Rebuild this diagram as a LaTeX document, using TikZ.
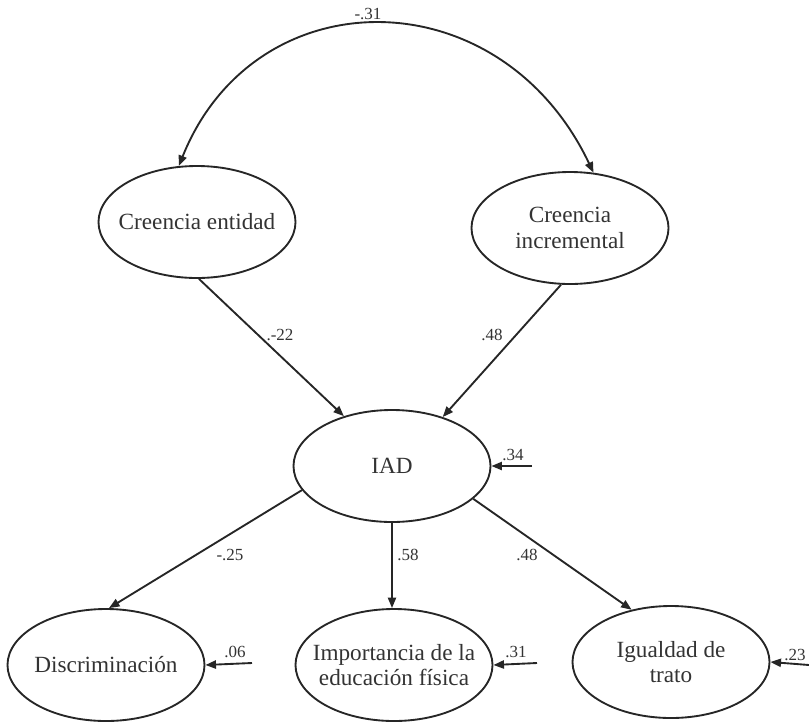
\documentclass[tikz,border=0pt]{standalone}
\usepackage{fontspec}
\setmainfont{Liberation Serif}
\usetikzlibrary{arrows.meta, shapes.geometric}

\begin{document}
\begin{tikzpicture}[x=0.03cm, y=-0.03cm,
    latent/.style={ellipse, draw=black!85, line width=1.6pt, minimum width=5.91cm, minimum height=3.36cm,
        inner xsep=-12pt, inner ysep=0pt, align=center, text=black!80, font=\fontsize{19.8}{21.5}\selectfont},
    path/.style={-{Triangle[length=9pt,width=7pt]}, draw=black!85, line width=1.6pt},
    coef/.style={text=black!80, font=\fontsize{14.5}{16}\selectfont}]
    \useasboundingbox (0,0) rectangle (809,721);

    % Beliefs
    \node[latent] (entidad) at (197,222) {Creencia entidad};
    \node[latent] (incremental) at (570,228) {Creencia\\incremental};

    % Central variable
    \node[latent] (iad) at (392,466) {IAD};

    % Outcomes
    \node[latent] (discrim) at (106,665) {Discriminaci\'on};
    \node[latent] (importancia) at (394,665) {Importancia de la\\educaci\'on f\'isica};
    \node[latent] (igualdad) at (671,662) {Igualdad de\\trato};

    % Correlation between beliefs
    \draw[path, {Triangle[length=9pt,width=7pt]}-{Triangle[length=9pt,width=7pt]}]
        (entidad.108) .. controls (255,-24) and (500,-24) .. (incremental.67);
    \node[coef] (r31) at (368,14) {-.31};

    % Paths into IAD
    \draw[path] (entidad.272) -- (iad.134);
    \draw[path] (incremental.261) -- (iad.44);
    \node[coef] (p22) at (280,335) {.-22};
    \node[coef] (p48a) at (492,335) {.48};

    % Paths out of IAD
    \draw[path] (iad.195) -- (discrim.87);
    \draw[path] (iad.south) -- (importancia.north -| iad.south);
    \draw[path] (iad.338) -- (igualdad.127);
    \node[coef] (p25) at (230,555) {-.25};
    \node[coef] (p58) at (408,555) {.58};
    \node[coef] (p48b) at (527,555) {.48};

    % Residuals
    \coordinate (eiad) at (532,466);
    \coordinate (edis) at (252,663);
    \coordinate (eimp) at (537,663);
    \coordinate (eigu) at (809,665);
    \draw[path] (eiad) -- (iad.east);
    \draw[path] (edis) -- (discrim.east);
    \draw[path] (eimp) -- (importancia.east);
    \draw[path] (eigu) -- (igualdad.east);
    \node[coef] (e34) at (513,455) {.34};
    \node[coef] (e06) at (235,652) {.06};
    \node[coef] (e31) at (516,652) {.31};
    \node[coef] (e23) at (795,655) {.23};
\end{tikzpicture}
\end{document}
